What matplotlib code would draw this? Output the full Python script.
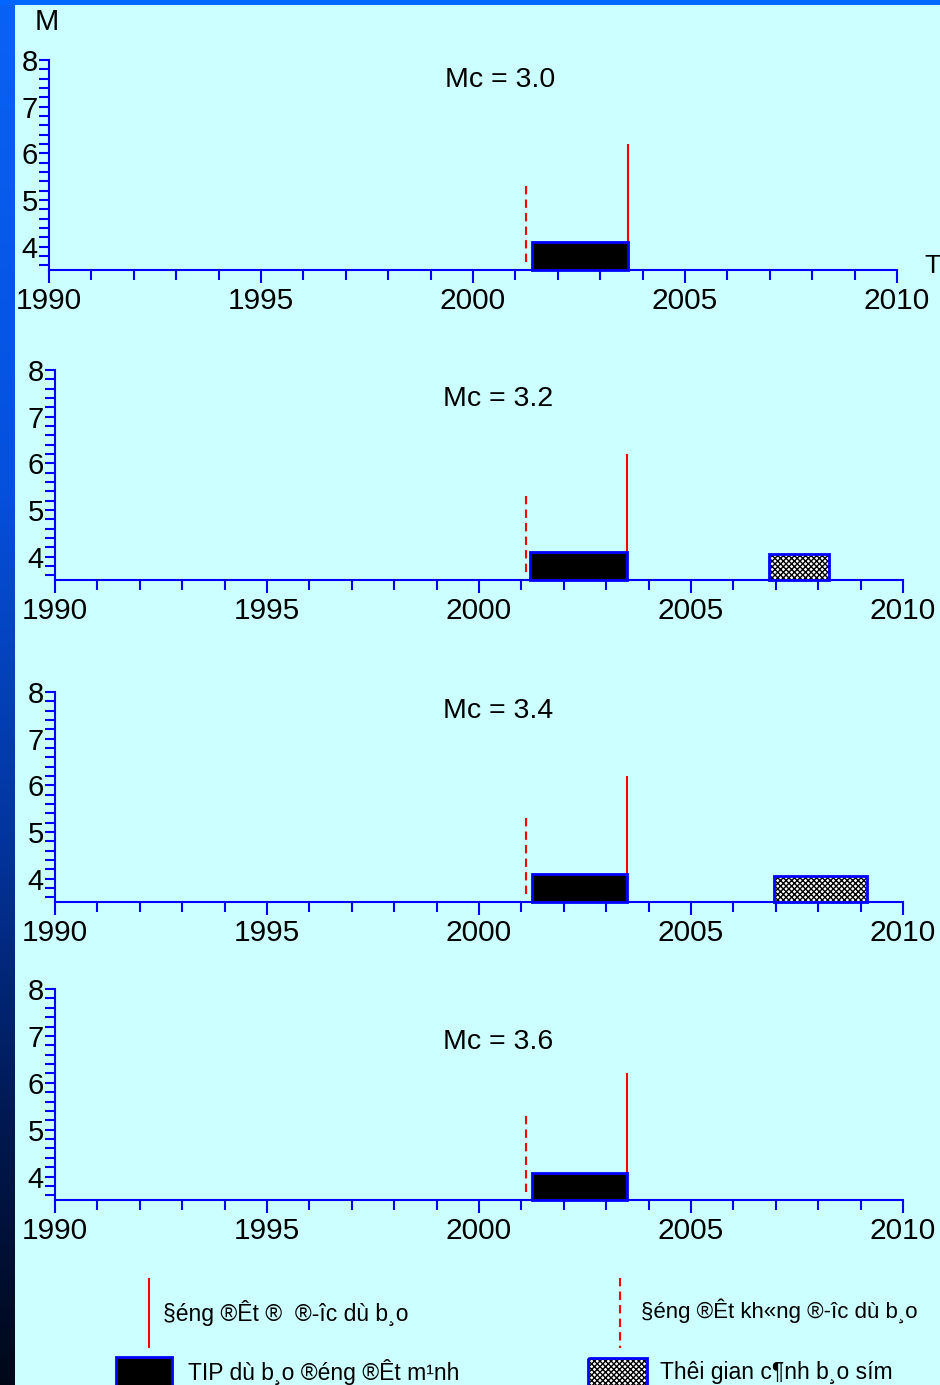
import numpy as np
import matplotlib
matplotlib.use("Agg")
import matplotlib.pyplot as plt
from matplotlib.ticker import MultipleLocator, FixedLocator
from matplotlib.colors import LinearSegmentedColormap

plt.rcParams['font.family'] = ['Liberation Sans', 'DejaVu Sans']
plt.rcParams['hatch.linewidth'] = 1.0

# ---------------- data ----------------
titles = ["Mc = 3.0", "Mc = 3.2", "Mc = 3.4", "Mc = 3.6"]
tip_start = [2001.4, 2001.2, 2001.25, 2001.25]
tip_end = [2003.65, 2003.5, 2003.5, 2003.5]
tip_top = [4.1, 4.1, 4.1, 4.08]
predicted_eq_time = [2003.65, 2003.5, 2003.5, 2003.5]
predicted_eq_mag = [6.2, 6.2, 6.2, 6.2]
missed_eq_time = [2001.25, 2001.1, 2001.1, 2001.1]
missed_eq_low = [3.68, 3.68, 3.68, 3.68]
missed_eq_mag = [5.3, 5.3, 5.3, 5.3]
# false alarms (hatched) per panel: list of (start, end, top)
alarms = [[], [(2006.85, 2008.25, 4.06)], [(2006.95, 2009.15, 4.06)], []]

x_major = [1990, 1995, 2000, 2005, 2010]
y_major = [4, 5, 6, 7, 8]
legend_labels = ["§éng ®Êt ®  ®\u00adîc dù b¸o",
                 "§éng ®Êt kh«ng ®\u00adîc dù b¸o",
                 "TIP dù b¸o ®éng ®Êt m¹nh",
                 "Thêi gian c¶nh b¸o sím"]

W, H = 940, 1385
fig = plt.figure(figsize=(W / 100, H / 100), dpi=100)
fig.patch.set_facecolor("#CCFFFF")

# background axes in pixel coordinates
bg = fig.add_axes([0, 0, 1, 1], zorder=0)
bg.set_xlim(0, W)
bg.set_ylim(H, 0)
bg.axis("off")
grad = np.linspace(0, 1, 256).reshape(-1, 1)
cmap = LinearSegmentedColormap.from_list(
    "slide", [(0, "#0A62F5"), (0.35, "#0550DD"), (0.6, "#0335A0"), (0.8, "#011A55"), (1, "#000818")])
bg.imshow(grad, cmap=cmap, aspect="auto", extent=[0, 15, H, 0], zorder=1)
bg.add_patch(plt.Rectangle((0, 0), W, 5, color="#0066FF", zorder=2, lw=0))

BLUE = "#0000FF"
RED = "#FF0000"

# panel pixel boxes: left, right, y(8), y(3.5)
boxes = [(49, 897, 60, 270), (55, 903, 370, 580), (55, 903, 692, 902), (55, 903, 989, 1200)]
title_pos = [(0.532, 0.905), (0.522, 0.862), (0.522, 0.91), (0.522, 0.75)]

for i in range(4):
    l, r, t, b = boxes[i]
    ax = fig.add_axes([l / W, 1 - b / H, (r - l) / W, (b - t) / H], zorder=2)
    ax.set_facecolor("none")
    ax.set_xlim(1990, 2010)
    ax.set_ylim(3.5, 8)
    for s in ("top", "right"):
        ax.spines[s].set_visible(False)
    for s in ("left", "bottom"):
        ax.spines[s].set_color(BLUE)
        ax.spines[s].set_linewidth(1.5)
    ax.xaxis.set_major_locator(FixedLocator(x_major))
    ax.xaxis.set_minor_locator(MultipleLocator(1))
    ax.yaxis.set_major_locator(FixedLocator(y_major))
    ax.yaxis.set_minor_locator(FixedLocator(np.arange(3.6, 8.0, 0.2)))
    ax.tick_params(axis="x", which="major", length=9.5, width=1.5, color=BLUE,
                   labelsize=21.5, pad=3)
    ax.tick_params(axis="x", which="minor", length=7, width=1.5, color=BLUE)
    ax.tick_params(axis="y", which="both", length=7, width=1.5, color=BLUE,
                   labelsize=21, pad=1)
    ax.set_xticklabels([str(v) for v in x_major])
    ax.set_yticklabels([str(v) for v in y_major])

    # TIP bar
    ax.bar([tip_start[i]], [tip_top[i] - 3.5], width=[tip_end[i] - tip_start[i]],
           bottom=3.5, align="edge", facecolor="black", edgecolor=BLUE, linewidth=2,
           zorder=3, clip_on=False)
    # alarms
    for (a0, a1, top) in alarms[i]:
        ax.bar([a0], [top - 3.5], width=[a1 - a0], bottom=3.5, align="edge",
               facecolor="white", edgecolor="black", hatch="xxxxxx", linewidth=0,
               zorder=3, clip_on=False)
        ax.bar([a0], [top - 3.5], width=[a1 - a0], bottom=3.5, align="edge",
               fill=False, edgecolor=BLUE, linewidth=2, zorder=4, clip_on=False)
    # predicted earthquake
    ax.vlines(predicted_eq_time[i], tip_top[i], predicted_eq_mag[i], colors=RED,
              linewidth=1.5, zorder=2)
    # missed earthquake
    ax.vlines(missed_eq_time[i], missed_eq_low[i], missed_eq_mag[i], colors=RED,
              linewidth=1.5, linestyles=(0, (4, 2.5)), zorder=2)

    tx, ty = title_pos[i]
    ax.text(tx, ty, titles[i], transform=ax.transAxes, ha="center", va="center",
            fontsize=20.5)
    if i == 0:
        bg.text(47, 22, "M", ha="center", va="center", fontsize=21, zorder=5)
        bg.text(924, 266, "T", ha="left", va="center", fontsize=19, zorder=5)

# legend
bg.vlines(149, 1278, 1348, colors=RED, linewidth=1.5, zorder=5)
bg.text(163, 1313, legend_labels[0], ha="left", va="center", fontsize=16.5, zorder=5)
bg.vlines(620, 1278, 1348, colors=RED, linewidth=1.5, linestyles=(0, (4, 2.5)), zorder=5)
bg.text(641, 1311, legend_labels[1], ha="left", va="center", fontsize=16, zorder=5)
bg.add_patch(plt.Rectangle((116, 1357), 56, 40, facecolor="black", edgecolor=BLUE,
                           linewidth=2, zorder=5))
bg.text(188, 1372, legend_labels[2], ha="left", va="center", fontsize=16.5, zorder=5)
bg.add_patch(plt.Rectangle((588, 1358), 59, 40, facecolor="white", edgecolor="black",
                           hatch="xxxxxx", linewidth=0, zorder=5))
bg.add_patch(plt.Rectangle((588, 1358), 59, 40, fill=False, edgecolor=BLUE,
                           linewidth=2, zorder=6))
bg.text(660, 1372, legend_labels[3], ha="left", va="center", fontsize=16.5, zorder=5)

fig.savefig("out.png", dpi=100, facecolor=fig.get_facecolor())
